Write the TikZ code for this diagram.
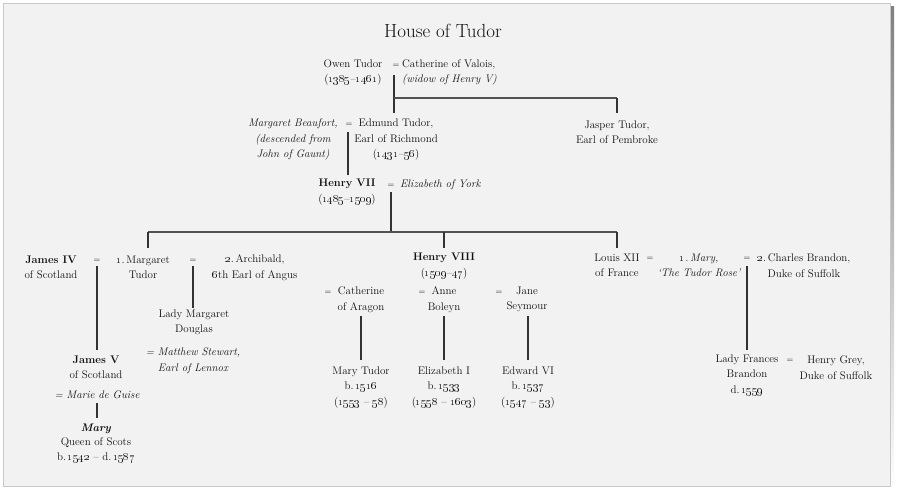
\documentclass[tikz,border=0pt]{standalone}
\usetikzlibrary{calc}
\definecolor{ink}{HTML}{111111}
\definecolor{rule}{HTML}{333333}
\definecolor{panel}{HTML}{F2F2F2}
\definecolor{edge}{HTML}{C8C8C8}
\definecolor{shade}{HTML}{9A9A9A}
\newcommand{\os}[1]{\oldstylenums{#1}}
\begin{document}
\begin{tikzpicture}[x=1pt,y=-1pt,
  person/.style={inner sep=0pt, align=center, text=ink, font=\fontsize{11}{15.5}\selectfont},
  spouse/.style={person, font=\fontsize{11}{15.5}\selectfont\itshape},
  eqsign/.style={inner sep=0pt, text=ink, font=\fontsize{8.5}{10}\selectfont},
  link/.style={draw=rule, line width=1.4pt},
  bar/.style={draw=rule!85, line width=1.1pt}]
\useasboundingbox (0,0) rectangle (897,491);
% page and frame
\fill[white] (0,0) rectangle (897,491);
\fill[shade] (6,6) rectangle (894,489);
\filldraw[fill=panel, draw=edge, line width=0.8pt] (3,3) rectangle (890,486);

% title
\node[inner sep=0pt, text=ink, font=\fontsize{19}{22}\selectfont] (title) at (443,31) {House of Tudor};

% generation 1
\node[person] (owen) at (353,72.5) {Owen Tudor\\(\os{1385}--\os{1461})};
\node[eqsign] (eqA) at (396,66) {=};
\node[person, anchor=west, align=left] (cathv) at (402,72.5) {Catherine of Valois,\\\textit{(widow of Henry V)}};
\coordinate (oA) at (394,75);
\coordinate (oB) at (394,113);
\coordinate (oC) at (394,98);
\coordinate (oD) at (617,113);

% generation 2
\node[spouse] (beaufort) at (293,140) {Margaret Beaufort,\\(descended from\\John of Gaunt)};
\node[eqsign] (eqB) at (349,125) {=};
\node[person] (edmund) at (396,140) {Edmund Tudor,\\Earl of Richmond\\(\os{1431}--\os{56})};
\node[person] (jasper) at (617,132) {Jasper Tudor,\\Earl of Pembroke};
\coordinate (eA) at (348,132);
\coordinate (eB) at (348,175);

% generation 3
\node[person] (henry7) at (347,192) {\textbf{Henry VII}\\(\os{1485}--\os{1509})};
\node[eqsign] (eqC) at (391,186) {=};
\node[spouse, anchor=west] (elizy) at (400,185) {Elizabeth of York};
\coordinate (hA) at (391,192);
\coordinate (hB) at (391,232);
\coordinate (barL) at (148,232);
\coordinate (barR) at (617,232);
\coordinate (dL) at (148,248);
\coordinate (dM) at (444,232);
\coordinate (dMb) at (444,248);
\coordinate (dR) at (617,248);

% Margaret Tudor branch
\node[person] (james4) at (51,267.5) {\textbf{James IV}\\of Scotland};
\node[eqsign] (eqD) at (97,261) {=};
\node[person] (margaret) at (143,267.5) {\os{1}.\,Margaret\\Tudor};
\node[eqsign] (eqE) at (193,261) {=};
\node[person] (archibald) at (255,267.5) {\os{2}.\,Archibald,\\\os{6}th Earl of Angus};
\node[person] (ladym) at (194,322.5) {Lady Margaret\\Douglas};
\node[spouse] (matthew) at (193,360.5) {= Matthew Stewart,\\Earl of Lennox};
\node[person] (james5) at (96,367.5) {\textbf{James V}\\of Scotland};
\node[spouse] (marie) at (97,395) {= Marie de Guise};
\node[person, font=\fontsize{11}{14.5}\selectfont] (maryq) at (96,443) {\textbf{\textit{Mary}}\\Queen of Scots\\b.\,\os{1542} -- d.\,\os{1587}};
\coordinate (jA) at (97,266);
\coordinate (jB) at (97,350);
\coordinate (aA) at (193,266);
\coordinate (aB) at (193,308);
\coordinate (mA) at (97,403);
\coordinate (mB) at (97,418);

% Henry VIII branch
\node[person] (henry8) at (444,266) {\textbf{Henry VIII}\\(\os{1509}--\os{47})};
\node[eqsign] (eqF) at (328,293) {=};
\node[person] (catha) at (361,299.5) {Catherine\\of Aragon};
\node[eqsign] (eqG) at (422,293) {=};
\node[person] (anne) at (444,299.5) {Anne\\Boleyn};
\node[eqsign] (eqH) at (499,293) {=};
\node[person] (jane) at (527,299.5) {Jane\\Seymour};
\node[person] (marytudor) at (361,387.5) {Mary Tudor\\b.\,\os{1516}\\(\os{1553} -- \os{58})};
\node[person] (eliz1) at (444,387.5) {Elizabeth I\\b.\,\os{1533}\\(\os{1558} -- \os{1603})};
\node[person] (edward) at (528,387.5) {Edward VI\\b.\,\os{1537}\\(\os{1547} -- \os{53})};
\coordinate (c1A) at (361,316); \coordinate (c1B) at (361,360);
\coordinate (c2A) at (444,316); \coordinate (c2B) at (444,360);
\coordinate (c3A) at (528,316); \coordinate (c3B) at (528,360);

% Mary Tudor (Rose) branch
\node[person] (louis) at (617,265.5) {Louis XII\\of France};
\node[eqsign] (eqI) at (650,259) {=};
\node[spouse] (mary1) at (699,265.5) {\os{1}.\,Mary,\\`The Tudor Rose'};
\node[eqsign] (eqJ) at (747,259) {=};
\node[person] (charles) at (804,265.5) {\os{2}.\,Charles Brandon,\\Duke of Suffolk};
\node[person] (frances) at (747,375) {Lady Frances\\Brandon\\d.\,\os{1559}};
\node[eqsign] (eqK) at (790,361) {=};
\node[person] (grey) at (836,367.5) {Henry Grey,\\Duke of Suffolk};
\coordinate (bA) at (747,266);
\coordinate (bB) at (747,350);

% connectors
\draw[link] (oA) -- (oB);
\draw[bar] (oC) -- (oC -| oD);
\draw[link] (oC -| oD) -- (oD);
\draw[link] (eA) -- (eB);
\draw[link] (hA) -- (hB);
\draw[bar] (barL) -- (barR);
\draw[link] (barL) -- (dL);
\draw[link] (dM) -- (dMb);
\draw[link] (barR) -- (dR);
\draw[link] (jA) -- (jB);
\draw[link] (aA) -- (aB);
\draw[link] (mA) -- (mB);
\draw[link] (c1A) -- (c1B);
\draw[link] (c2A) -- (c2B);
\draw[link] (c3A) -- (c3B);
\draw[link] (bA) -- (bB);
\end{tikzpicture}
\end{document}
